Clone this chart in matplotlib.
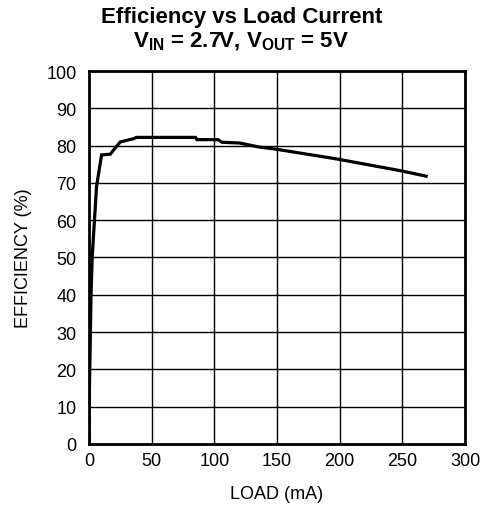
import matplotlib
matplotlib.use("Agg")
import matplotlib.pyplot as plt

# Values
load_ma = [0.0, 0.3, 1.6, 2.6, 6.0, 10.0, 17.0, 21.0, 25.0, 35.0, 38.0,
           85.0, 86.0, 103.0, 106.0, 120.0, 136.0, 148.0, 174.0, 198.0,
           227.0, 248.0, 269.0]
efficiency = [0.0, 14.0, 40.0, 50.5, 69.0, 77.5, 77.7, 79.4, 81.0, 81.8, 82.2,
              82.2, 81.6, 81.6, 80.9, 80.7, 79.6, 79.1, 77.7, 76.4,
              74.6, 73.3, 71.8]

x_ticks = [0, 50, 100, 150, 200, 250, 300]
y_ticks = [0, 10, 20, 30, 40, 50, 60, 70, 80, 90, 100]

plt.rcParams["font.family"] = ["Liberation Sans", "DejaVu Sans"]
plt.rcParams["mathtext.fontset"] = "custom"
plt.rcParams["mathtext.rm"] = "Liberation Sans"
plt.rcParams["mathtext.bf"] = "Liberation Sans:bold"

fig = plt.figure(figsize=(4.83, 5.06), dpi=100)
ax = fig.add_axes([0.1843, 0.1206, 0.7784, 0.7371])

ax.plot(load_ma, efficiency, color="black", linewidth=2.3,
        solid_joinstyle="miter")

ax.set_xlim(0, 300)
ax.set_ylim(0, 100)
ax.set_xticks(x_ticks)
ax.set_yticks(y_ticks)
ax.grid(True, color="black", linewidth=1.0)
ax.set_axisbelow(True)
ax.tick_params(length=0, labelsize=13)
ax.tick_params(axis="x", pad=6)
ax.tick_params(axis="y", pad=9)
for s in ax.spines.values():
    s.set_linewidth(2.0)

ax.set_xlabel("LOAD (mA)", fontsize=13, labelpad=11)
ax.set_ylabel("EFFICIENCY (%)", fontsize=13, labelpad=10)

fig.text(0.5, 0.966, "Efficiency vs Load Current", ha="center", va="center",
         fontsize=16, fontweight="bold")
fig.text(0.5, 0.918,
         r"$\mathbf{V_{IN}}$ = 2.7V, $\mathbf{V_{OUT}}$ = 5V",
         ha="center", va="center", fontsize=16, fontweight="bold")

fig.savefig("out.png", dpi=100)
